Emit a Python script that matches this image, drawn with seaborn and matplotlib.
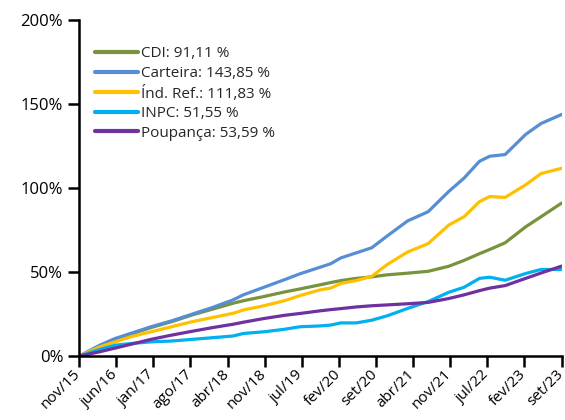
import pandas as pd
import numpy as np
import seaborn as sns
import matplotlib.pyplot as plt
import matplotlib.transforms as mtransforms
from matplotlib.ticker import FuncFormatter

# Mois écoulés depuis nov/15 (lecture du graphique)
mois = [0, 4, 7, 10, 14, 18, 22, 26, 30, 32, 36, 40, 43, 47, 49, 51, 54, 57,
        60, 64, 68, 72, 75, 78, 80, 83, 87, 90, 94]

cdi = [0, 5.5, 9.5, 13, 17, 20.5, 24.5, 28, 31.5, 33, 35.5, 38.2, 40, 42.5, 43.8,
       45, 46.3, 47.2, 48.4, 49.4, 50.5, 53.5, 57, 61, 63.5, 67.5, 77, 83, 91.11]
carteira = [0, 6.5, 10.5, 13.5, 17.5, 21, 25, 29, 33.5, 36.5, 41, 45.5, 49, 53, 55,
            58.5, 61.5, 64.5, 71.5, 80.5, 86, 98, 106, 116, 119, 120, 132, 138.5, 143.85]
ind_ref = [0, 5.5, 8.5, 11.5, 14.5, 17.5, 20.5, 23, 25.5, 27.5, 30, 33, 36, 39.5, 40.5,
           43.3, 45, 47.5, 54.5, 62, 67, 78, 83, 92, 95, 94.5, 102, 108.7, 111.83]
inpc = [0, 4, 6.5, 7.5, 8.5, 9, 10, 11, 12, 13.5, 14.5, 16, 17.5, 18, 18.5, 19.8,
        19.8, 21.4, 24, 28.4, 32.5, 38, 41, 46.3, 47, 45.2, 49.2, 51.6, 51.55]
poupanca = [0, 2.6, 4.8, 7, 10, 12.5, 14.8, 17, 19, 20.2, 22.4, 24.3, 25.4, 27, 27.7,
            28.3, 29.3, 30, 30.5, 31.2, 32, 34.3, 36.5, 39, 40.5, 42, 46.3, 49.5, 53.59]

series = {
    'CDI: 91,11 %': cdi,
    'Carteira: 143,85 %': carteira,
    'Índ. Ref.: 111,83 %': ind_ref,
    'INPC: 51,55 %': inpc,
    'Poupança: 53,59 %': poupanca,
}
couleurs = ['#77933C', '#558ED5', '#FFC000', '#00B0F0', '#7030A0']

rotulos_x = ['nov/15', 'jun/16', 'jan/17', 'ago/17', 'abr/18', 'nov/18', 'jul/19',
             'fev/20', 'set/20', 'abr/21', 'nov/21', 'jul/22', 'fev/23', 'set/23']

donnees = pd.DataFrame([
    {'mois': m, 'valeur': v, 'serie': nom}
    for nom, vals in series.items() for m, v in zip(mois, vals)
])

sns.set_theme(style='ticks')
plt.rcParams['font.family'] = ['Open Sans', 'DejaVu Sans']

fig = plt.figure(figsize=(5.65, 4.2), dpi=100)
ax = fig.add_axes([0.14, 0.152, 0.854, 0.8])

sns.lineplot(data=donnees, x='mois', y='valeur', hue='serie',
             palette=couleurs, linewidth=2.3, ax=ax)

ax.set_xlim(0, 94)
ax.set_ylim(0, 200)
ax.set_yticks([0, 50, 100, 150, 200])
ax.yaxis.set_major_formatter(FuncFormatter(lambda v, p: f'{v:.0f}%'))
ax.set_xticks(np.linspace(0, 94, len(rotulos_x)))
ax.set_xticklabels(rotulos_x, rotation=45, ha='right', rotation_mode='anchor')
ax.set_xlabel('')
ax.set_ylabel('')

sns.despine(ax=ax)
for s in ['left', 'bottom']:
    ax.spines[s].set_linewidth(1.8)
    ax.spines[s].set_color('black')
ax.tick_params(axis='both', length=8, width=1.8, color='black',
               labelsize=12, labelcolor='black')
ax.tick_params(axis='x', labelsize=11, pad=1)

# je décale un peu les étiquettes vers la gauche pour que set/23 ne soit pas coupé
decalage = mtransforms.ScaledTranslation(-6 / 100, 2 / 100, fig.dpi_scale_trans)
for etiquette in ax.get_xticklabels():
    etiquette.set_transform(etiquette.get_transform() + decalage)

leg = ax.legend(loc='upper left', bbox_to_anchor=(0.02, 0.94), frameon=False,
                fontsize=11, handlelength=2.8, handletextpad=0.25,
                labelspacing=0.3, borderaxespad=0)
for ligne in leg.get_lines():
    ligne.set_linewidth(3)

fig.savefig('out.png', dpi=100)
